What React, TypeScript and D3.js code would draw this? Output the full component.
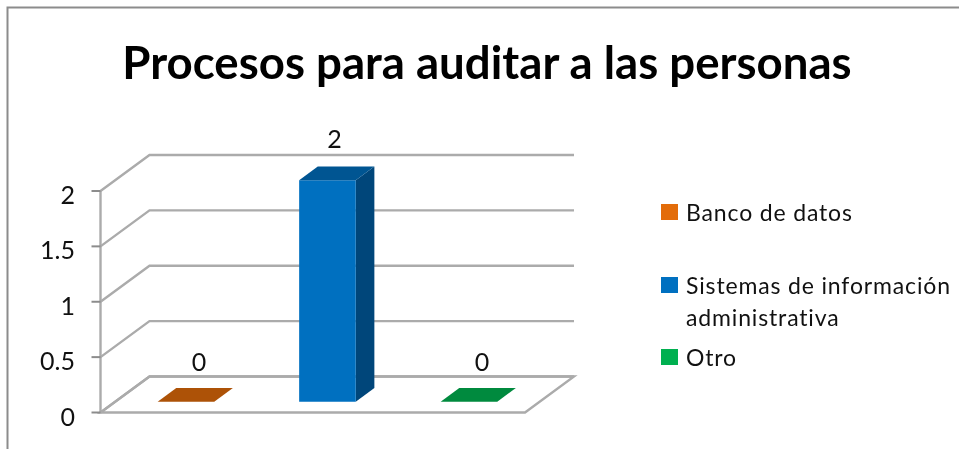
import React from "react";
import * as d3 from "d3";

const title = "Procesos para auditar a las personas";
const categories = ["Banco de datos", "Sistemas de información administrativa", "Otro"];
const values = [0, 2, 0];
const colors = ["#E36C09", "#0070C0", "#00B050"];
const topColors = ["#AD5207", "#005592", "#008A3E"];
const sideColors = ["#8A4106", "#00467A", "#006E32"];
const yTicks = [0, 0.5, 1, 1.5, 2];
const legendLines = [["Banco de datos"], ["Sistemas de información", "administrativa"], ["Otro"]];
const legendY = [212, 285, 357];

const FONT = "Lato, Carlito, Calibri, sans-serif";
const x = d3.scaleBand<string>().domain(categories).range([100.5, 525]).paddingInner(0.6).paddingOuter(0.3);
const y = d3.scaleLinear().domain([0, 2]).range([412.5, 191]);
const depthX = d3.scaleLinear().domain([0, 1]).range([0, 49]);
const depthY = d3.scaleLinear().domain([0, 1]).range([0, -36]);
const barFront = 0.3;
const barBack = 0.68;

const pt = (px: number, value: number, depth: number): [number, number] => [px + depthX(depth), y(value) + depthY(depth)];
const poly = (pts: [number, number][]) => pts.map((p) => p.join(",")).join(" ");
const GRID = "#ABABAB";

export default function App() {
  const x0 = x.range()[0];
  const x1 = x.range()[1];
  const bw = x.bandwidth();
  return (
    <svg width={959} height={449} style={{ position: "absolute", left: 0, top: 0, background: "#fff" }}>
      <g style={{ filter: "blur(0.45px)" }}>
        <path d="M7.5,449 V7.5 H959" fill="none" stroke="#8C8C8C" strokeWidth={2} />
        <text x={487} y={78.5} textAnchor="middle" fontFamily={FONT} fontWeight={700} fontSize={45.6} fill="#000">{title}</text>

        <polygon points={poly([pt(x0, 0, 0), pt(x1, 0, 0), pt(x1, 0, 1), pt(x0, 0, 1)])} fill="#fff" stroke={GRID} strokeWidth={2.4} />
        <line x1={x0} x2={x0} y1={y(2)} y2={y(0)} stroke={GRID} strokeWidth={2.4} />
        {yTicks.map((t) => {
          const a = pt(x0, t, 0), b = pt(x0, t, 1), c = pt(x1, t, 1);
          return (
            <g key={t}>
              <polyline points={poly([a, b, c])} fill="none" stroke={GRID} strokeWidth={2.4} />
              <line x1={x0 - 9} x2={x0} y1={y(t)} y2={y(t)} stroke="#8C8C8C" strokeWidth={2} />
              <text x={75} y={y(t) + 13} textAnchor="end" fontFamily={FONT} fontSize={25} fill="#111">{t}</text>
            </g>
          );
        })}

        {categories.map((c, i) => {
          const l = x(c)!;
          const r = l + bw;
          const v = values[i];
          const labelX = pt(l, v, barFront)[0] + bw / 2 + (v > 0 ? 7 : 13);
          return (
            <g key={c}>
              {v > 0 && <polygon points={poly([pt(r, 0, barFront), pt(r, 0, barBack), pt(r, v, barBack), pt(r, v, barFront)])} fill={sideColors[i]} />}
              {v > 0 && <polygon points={poly([pt(l, 0, barFront), pt(r, 0, barFront), pt(r, v, barFront), pt(l, v, barFront)])} fill={colors[i]} />}
              <polygon points={poly([pt(l, v, barFront), pt(r, v, barFront), pt(r, v, barBack), pt(l, v, barBack)])} fill={topColors[i]} />
              <text x={labelX} y={pt(l, v, barBack)[1] - (v > 0 ? 19 : 17)} textAnchor="middle" fontFamily={FONT} fontSize={25} fill="#111">{v}</text>
            </g>
          );
        })}

        {categories.map((c, i) => (
          <g key={c}>
            <rect x={661} y={legendY[i] - 8} width={17} height={16} fill={colors[i]} />
            {legendLines[i].map((line, j) => (
              <text key={line} x={686} y={legendY[i] + 9 + j * 32} fontFamily={FONT} fontSize={23} letterSpacing={0.85} fill="#111">{line}</text>
            ))}
          </g>
        ))}
      </g>
    </svg>
  );
}
